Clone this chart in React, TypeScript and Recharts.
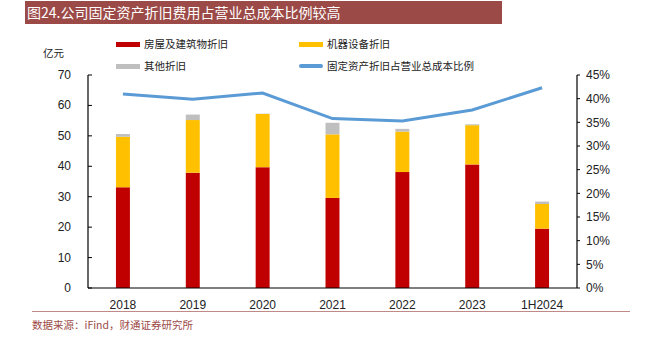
import React from "react";
import {
  ComposedChart,
  Bar,
  Line,
  XAxis,
  YAxis,
} from "recharts";

const categories = ["2018", "2019", "2020", "2021", "2022", "2023", "1H2024"];
const buildingDep = [33.1, 37.9, 39.7, 29.6, 38.1, 40.6, 19.5];
const machineDep = [16.6, 17.3, 17.5, 20.9, 13.3, 12.9, 8.1];
const otherDep = [0.9, 1.8, 0.1, 3.8, 0.9, 0.3, 0.8];
const ratio = [0.41, 0.399, 0.412, 0.358, 0.353, 0.376, 0.423];
const leftTicks = [0, 10, 20, 30, 40, 50, 60, 70];
const rightTicks = [0, 0.05, 0.1, 0.15, 0.2, 0.25, 0.3, 0.35, 0.4, 0.45];

const seriesNames = {
  building: "房屋及建筑物折旧",
  machine: "机器设备折旧",
  other: "其他折旧",
  ratio: "固定资产折旧占营业总成本比例",
};
const title = "图24.公司固定资产折旧费用占营业总成本比例较高";
const unitLabel = "亿元";
const sourceText = "数据来源：iFind，财通证券研究所";

const data = categories.map((c, i) => ({
  name: c,
  building: buildingDep[i],
  machine: machineDep[i],
  other: otherDep[i],
  ratio: ratio[i],
}));

const COLORS = {
  building: "#C00000",
  machine: "#FFC000",
  other: "#BFBFBF",
  ratio: "#5B9BD5",
};

const cjk = '"Noto Sans CJK SC", sans-serif';
const latin = '"Liberation Sans", Arial, sans-serif';

const LeftTick = (props: any) => {
  const { x, y, payload } = props;
  return (
    <g>
      <line x1={x + 17} y1={y} x2={x + 21} y2={y} stroke="#000" strokeWidth={1} />
      <text x={x} y={y} dy={4} textAnchor="end" fontSize={12} fontFamily={latin} fill="#222">
        {payload.value}
      </text>
    </g>
  );
};

const LegendBlock = () => {
  const items = [
    { key: "building", x: 116, y: 44, type: "rect" },
    { key: "machine", x: 299, y: 44, type: "rect" },
    { key: "other", x: 116, y: 66, type: "rect" },
    { key: "ratio", x: 299, y: 66, type: "line" },
  ];
  return (
    <>
      {items.map((it) => (
        <div key={it.key}>
          <div
            style={{
              position: "absolute",
              left: it.x,
              top: it.y - 2.5,
              width: 24,
              height: it.type === "line" ? 4 : 5,
              borderRadius: it.type === "line" ? 2 : 0,
              background: (COLORS as any)[it.key],
            }}
          />
          <div
            style={{
              position: "absolute",
              left: it.x + 28,
              top: it.y - 8,
              fontSize: 10.5,
              lineHeight: "16px",
              fontFamily: cjk,
              color: "#222",
              whiteSpace: "nowrap",
            }}
          >
            {(seriesNames as any)[it.key]}
          </div>
        </div>
      ))}
    </>
  );
};

export default function App() {
  return (
    <div
      style={{
        position: "absolute",
        left: 0,
        top: 0,
        width: 651,
        height: 339,
        background: "#fff",
        overflow: "hidden",
      }}
    >
      <div
        style={{
          position: "absolute",
          left: 25,
          top: 1,
          width: 477,
          height: 23,
          background: "#9C4A47",
        }}
      />
      <div
        style={{
          position: "absolute",
          left: 27,
          top: 2,
          fontSize: 14,
          lineHeight: "21px",
          fontFamily: cjk,
          color: "#fff",
          whiteSpace: "nowrap",
        }}
      >
        {title}
      </div>
      <div
        style={{
          position: "absolute",
          left: 43,
          top: 45,
          fontSize: 10.5,
          lineHeight: "16px",
          fontFamily: cjk,
          color: "#222",
        }}
      >
        {unitLabel}
      </div>
      <LegendBlock />
      <div style={{ position: "absolute", left: 0, top: 0 }}>
        <ComposedChart
          width={651}
          height={339}
          data={data}
          margin={{ top: 75, right: 34, bottom: 21, left: 48 }}
          barCategoryGap="60%"
        >
          <XAxis
            dataKey="name"
            height={30}
            tickLine={false}
            axisLine={{ stroke: "#000", strokeWidth: 1.2 }}
            tick={{ fontSize: 12, fontFamily: latin, fill: "#222" }}
            tickMargin={6}
          />
          <YAxis
            yAxisId="left"
            width={40}
            domain={[0, 70]}
            ticks={leftTicks}
            interval={0}
            axisLine={{ stroke: "#000", strokeWidth: 1.2 }}
            tickLine={false}
            tickSize={0}
            tickMargin={17}
            tick={<LeftTick />}
          />
          <YAxis
            yAxisId="right"
            orientation="right"
            width={40}
            domain={[0, 0.45]}
            ticks={rightTicks}
            interval={0}
            axisLine={{ stroke: "#000", strokeWidth: 1.2 }}
            tickLine={{ stroke: "#000" }}
            tickSize={3}
            tickMargin={6}
            tickFormatter={(v: number) => `${Math.round(v * 100)}%`}
            tick={{ fontSize: 12, fontFamily: latin, fill: "#222" }}
          />
          <Bar
            yAxisId="left"
            dataKey="building"
            name={seriesNames.building}
            stackId="a"
            fill={COLORS.building}
            isAnimationActive={false}
          />
          <Bar
            yAxisId="left"
            dataKey="machine"
            name={seriesNames.machine}
            stackId="a"
            fill={COLORS.machine}
            isAnimationActive={false}
          />
          <Bar
            yAxisId="left"
            dataKey="other"
            name={seriesNames.other}
            stackId="a"
            fill={COLORS.other}
            isAnimationActive={false}
          />
          <Line
            yAxisId="right"
            dataKey="ratio"
            name={seriesNames.ratio}
            stroke={COLORS.ratio}
            strokeWidth={3}
            dot={false}
            isAnimationActive={false}
          />
        </ComposedChart>
      </div>
      <div
        style={{
          position: "absolute",
          left: 32,
          top: 311,
          width: 598,
          height: 1,
          background: "#C08A88",
        }}
      />
      <div
        style={{
          position: "absolute",
          left: 32,
          top: 317,
          fontSize: 10.5,
          lineHeight: "16px",
          fontFamily: cjk,
          color: "#9C4A47",
          whiteSpace: "nowrap",
        }}
      >
        {sourceText}
      </div>
    </div>
  );
}
